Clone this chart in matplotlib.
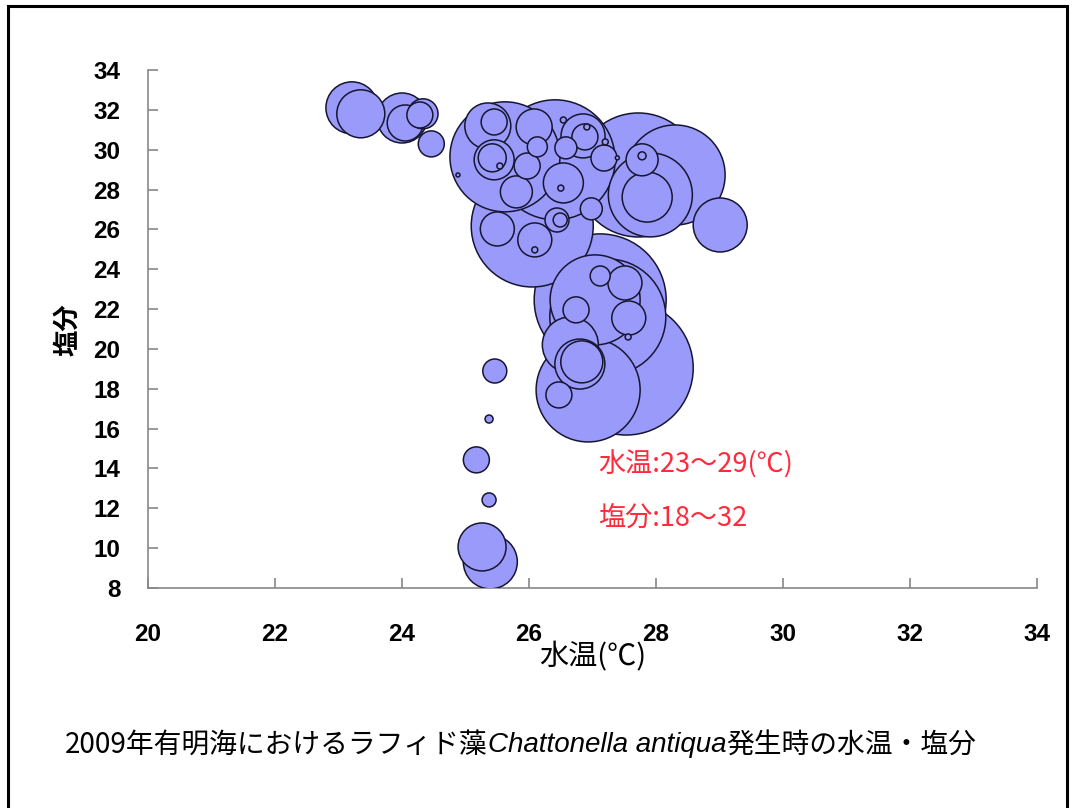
import numpy as np
import matplotlib.pyplot as plt
from matplotlib.patches import Rectangle

# 2009 Ariake Sea, Chattonella antiqua occurrences
# water temperature (deg C), salinity, cell density (bubble size)
water_temp = [23.21, 23.35, 24.00, 24.05, 24.28, 24.33, 24.46,
              25.62, 26.05, 26.41, 27.72, 28.30, 29.01, 27.91, 27.86, 27.78, 27.78,
              27.18, 26.98, 25.35, 25.45, 25.45, 25.42, 25.54, 25.97, 26.08, 26.13,
              25.80, 26.54, 26.50, 26.58, 26.85, 26.88, 26.91, 26.54, 25.50, 26.09,
              26.09, 26.44, 26.49, 27.39, 27.20, 24.88,
              27.12, 27.24, 27.53, 26.93, 27.04, 26.65, 26.83, 26.80, 26.47, 26.74,
              27.12, 27.51, 27.57, 27.56,
              25.46, 25.37, 25.17, 25.37, 25.26, 25.39]
salinity = [32.10, 31.80, 31.59, 31.34, 31.74, 31.80, 30.29,
            29.64, 26.17, 29.49, 28.73, 28.73, 26.22, 27.73, 27.62, 29.49, 29.69,
            29.58, 27.03, 31.19, 31.39, 29.49, 29.59, 29.18, 29.18, 31.14, 30.14,
            27.88, 28.33, 28.07, 30.09, 30.69, 30.64, 31.14, 31.49, 26.02, 25.47,
            24.97, 26.47, 26.47, 29.59, 30.39, 28.73,
            22.46, 21.60, 19.04, 17.94, 22.46, 20.20, 19.35, 19.24, 17.69, 21.96,
            23.66, 23.31, 21.55, 20.60,
            18.89, 16.48, 14.43, 12.42, 10.06, 9.31]
cells = [676, 576, 625, 324, 169, 225, 169,
         3025, 3721, 3600, 3844, 2500, 729, 1764, 625, 256, 16,
         169, 121, 529, 169, 400, 196, 9, 169, 324, 100,
         256, 400, 9, 121, 484, 169, 9, 9, 289, 289,
         9, 144, 49, 4, 9, 4,
         4356, 3364, 4489, 2704, 2025, 784, 441, 625, 169, 169,
         100, 289, 289, 9,
         144, 16, 169, 49, 576, 729]

x_ticks = list(range(20, 35, 2))
y_ticks = list(range(8, 35, 2))

fig = plt.figure(figsize=(10.73, 8.08), dpi=100)
ax = fig.add_axes([0.138, 0.2723, 0.8285, 0.6411])

x = np.array(water_temp)
y = np.array(salinity)
c = np.array(cells, dtype=float)
order = np.argsort(c)[::-1]  # big bubbles underneath
ax.scatter(x[order], y[order], s=c[order] * 2.0736, c='#9a9afa',
           edgecolors='#161632', linewidths=1.1, zorder=3)

ax.set_xlim(20, 34)
ax.set_ylim(8, 34)
ax.set_xticks(x_ticks)
ax.set_yticks(y_ticks)
ax.set_xticklabels([str(v) for v in x_ticks], fontsize=17.5, fontweight='bold',
                   family='Liberation Sans')
ax.set_yticklabels([str(v) for v in y_ticks], fontsize=17.5, fontweight='bold',
                   family='Liberation Sans')
for side in ['top', 'right']:
    ax.spines[side].set_visible(False)
for side in ['left', 'bottom']:
    ax.spines[side].set_color('#888888')
    ax.spines[side].set_linewidth(1.2)
ax.tick_params(axis='both', direction='in', length=7, color='#888888', width=1.2)
ax.tick_params(axis='x', pad=25)
ax.tick_params(axis='y', pad=20)

jp = ['Noto Sans CJK JP', 'DejaVu Sans']

# axis titles
fig.text(68 / 1073, 1 - 330 / 808, '塩分', rotation=90, fontsize=19,
         fontweight='bold', family=jp, ha='center', va='center')
fig.text(593 / 1073, 1 - 657 / 808, '水温(℃)', fontsize=21,
         family=jp, ha='center', va='center')

# range notes
red = '#ff2a3c'
ax.text(27.09, 14.17, '水温:23～29(℃)', fontsize=19.5, color=red, family=jp,
        va='center', ha='left', zorder=5)
ax.text(27.09, 11.51, '塩分:18～32', fontsize=19.5, color=red, family=jp,
        va='center', ha='left', zorder=5)

# caption with italic species name
fig.canvas.draw()
rend = fig.canvas.get_renderer()
pieces = [('2009年有明海におけるラフィド藻', jp, 'normal'),
          ('Chattonella antiqua', ['Liberation Sans'], 'italic'),
          ('発生時の水温・塩分', jp, 'normal')]
xpos = 65 / 1073
ycap = 1 - 745 / 808
for txt, fam, st in pieces:
    t = fig.text(xpos, ycap, txt, fontsize=20, family=fam, style=st,
                 ha='left', va='center')
    bb = t.get_window_extent(renderer=rend)
    xpos += bb.width / fig.bbox.width

# outer frame
fig.patches.append(Rectangle((8 / 1073, -0.05), 1059 / 1073, 1.05 - 6 / 808,
                             transform=fig.transFigure, fill=False,
                             edgecolor='black', linewidth=2.2))

fig.savefig('out.png', dpi=100)
